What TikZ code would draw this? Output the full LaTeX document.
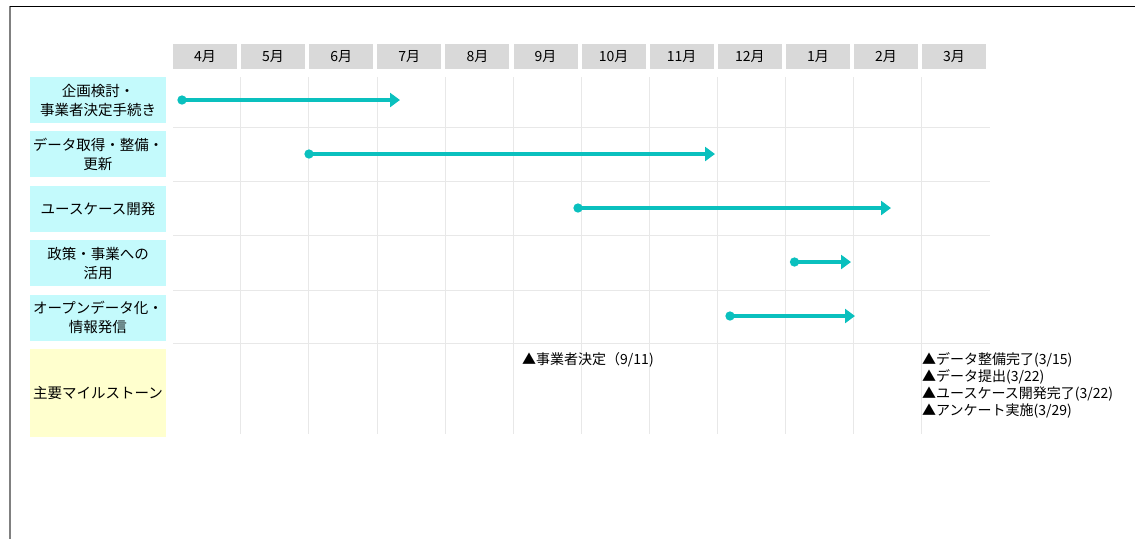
\documentclass[tikz,border=0pt]{standalone}
\usepackage{fontspec}
\setmainfont{Noto Sans CJK JP}
\usetikzlibrary{arrows.meta,positioning}

\definecolor{headgray}{RGB}{217,217,217}
\definecolor{taskcyan}{RGB}{196,250,252}
\definecolor{mileyellow}{RGB}{255,255,206}
\definecolor{barteal}{RGB}{10,192,190}
\definecolor{gridgray}{RGB}{232,232,232}
\definecolor{framegray}{RGB}{128,128,128}

\begin{document}
\begin{tikzpicture}[
    x=1pt, y=-1pt,
    node distance=8pt,
    month/.style={rectangle, fill=headgray, minimum width=64pt, minimum height=25pt, inner sep=0pt, font=\fontsize{14}{16}\selectfont},
    task/.style={rectangle, fill=taskcyan, minimum width=136pt, minimum height=46pt, inner sep=0pt, align=center, font=\fontsize{14.5}{19}\selectfont},
    mile/.style={task, fill=mileyellow, minimum height=88pt},
    note/.style={inner sep=0pt, align=left, font=\fontsize{14}{16.8}\selectfont},
    gridline/.style={draw=gridgray, line width=0.8pt},
    bar/.style={draw=barteal, line width=4pt, {Circle[length=9pt]}-{Triangle[length=10pt,width=14pt]}},
]
    \useasboundingbox (0,0) rectangle (1135,539);

    % Frame
    \draw[framegray, line width=1.5pt] (10,6) -- (10,539);
    \draw[black, line width=1pt] (10,6) -- (1135,6);

    % Grid
    \foreach \i in {0,...,10}
        \draw[gridline] ({240.7+68.1*\i},77) -- ++(0,357);
    \foreach \y in {127.7,181.7,235.7,290,343.3}
        \draw[gridline] (173,\y) -- (990,\y);

    % Month header
    \foreach \m [count=\i from 0] in {4月,5月,6月,7月,8月,9月,10月,11月,12月,1月,2月,3月}
        \node[month] (mon\i) at ({205+68.1*\i},56.5) {\m};

    % Task labels
    \node[task] (plan) at (98,100) {企画検討・\\事業者決定手続き};
    \node[task, below=of plan] (data) {データ取得・整備・\\更新};
    \node[task, below=of data] (usecase) {ユースケース開発};
    \node[task, below=of usecase] (policy) {政策・事業への\\活用};
    \node[task, below=of policy] (opendata) {オープンデータ化・\\情報発信};
    \node[mile, below=of opendata] (milestone) {主要マイルストーン};

    % Bars
    \coordinate (plan-s) at (177.5,100);    \coordinate (plan-e) at (400,100);
    \coordinate (data-s) at (304.5,154);    \coordinate (data-e) at (715,154);
    \coordinate (usecase-s) at (573.5,208); \coordinate (usecase-e) at (891,208);
    \coordinate (policy-s) at (790,262);    \coordinate (policy-e) at (851,262);
    \coordinate (opendata-s) at (725.5,316); \coordinate (opendata-e) at (855,316);

    \draw[bar] (plan-s) -- (plan-e);
    \draw[bar] (data-s) -- (data-e);
    \draw[bar] (usecase-s) -- (usecase-e);
    \draw[bar] (policy-s) -- (policy-e);
    \draw[bar] (opendata-s) -- (opendata-e);

    % Milestones
    \node[note, anchor=north west] (ms-sep) at (522,352.5) {▲事業者決定（9/11)};
    \node[note, anchor=north west] (ms-mar) at (922,352.5) {▲データ整備完了(3/15)\\▲データ提出(3/22)\\▲ユースケース開発完了(3/22)\\▲アンケート実施(3/29)};
\end{tikzpicture}
\end{document}
